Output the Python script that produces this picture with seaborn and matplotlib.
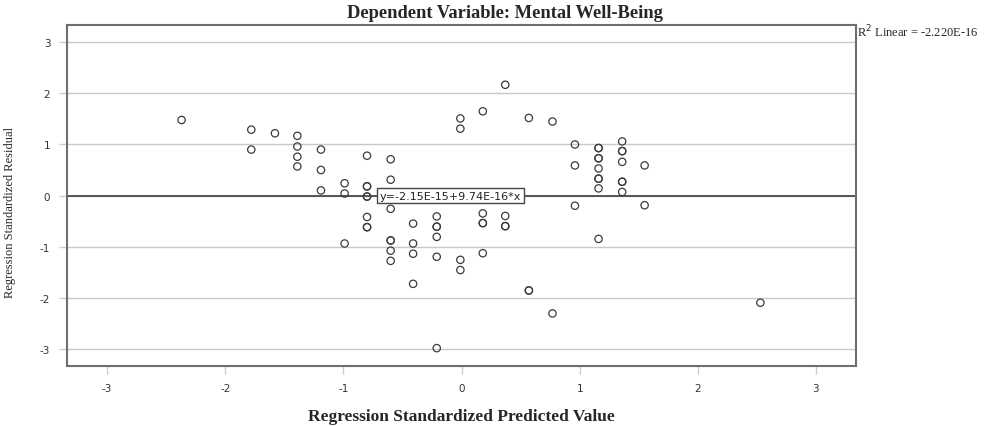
import matplotlib
matplotlib.use("Agg")
import matplotlib.pyplot as plt
import seaborn as sns
import pandas as pd
import numpy as np

# Data (standardized predicted value, standardized residual)
col_x = [-2.37, -1.78, -1.58, -1.39, -1.19, -0.99, -0.80, -0.60, -0.41, -0.21,
         -0.01, 0.18, 0.37, 0.57, 0.77, 0.96, 1.16, 1.36, 1.55, 2.53]
col_y = [
    [1.48],
    [1.29, 0.90],
    [1.22],
    [1.17, 0.96, 0.76, 0.57],
    [0.90, 0.50, 0.10],
    [0.24, 0.04, -0.94],
    [0.78, 0.18, 0.18, -0.02, -0.02, -0.42, -0.62, -0.62],
    [0.71, 0.31, -0.26, -0.88, -0.88, -1.08, -1.28],
    [-0.55, -0.94, -1.14, -1.73],
    [-0.41, -0.61, -0.61, -0.81, -1.20, -2.99],
    [1.51, 1.31, -1.26, -1.46],
    [1.65, -0.35, -0.54, -0.54, -1.13],
    [2.17, -0.40, -0.60, -0.60],
    [1.52, -1.86, -1.86],
    [1.45, -2.31],
    [1.00, 0.59, -0.20],
    [0.93, 0.93, 0.73, 0.73, 0.53, 0.33, 0.33, 0.14, -0.85],
    [1.06, 0.87, 0.87, 0.66, 0.27, 0.27, 0.07],
    [0.59, -0.19],
    [-2.10],
]
ticks = [-3, -2, -1, 0, 1, 2, 3]
fit_intercept = -2.15e-15
fit_slope = 9.74e-16

xs, ys = [], []
for cx, cys in zip(col_x, col_y):
    for cy in cys:
        xs.append(cx)
        ys.append(cy)
df = pd.DataFrame({"pred": xs, "resid": ys})

sns.set_style("white")
fig = plt.figure(figsize=(9.9, 4.27), dpi=100)
ax = fig.add_axes([0.0677, 0.1405, 0.797, 0.7985])

lim = 3.34
ax.set_xlim(-lim, lim)
ax.set_ylim(-lim, lim)

for t in ticks:
    ax.axhline(t, color="#c8c8c8", lw=1.0, zorder=0)

# fit line
lx = np.array([-lim, lim])
ax.plot(lx, fit_intercept + fit_slope * lx, color="#555555", lw=1.4, zorder=1)

sns.scatterplot(data=df, x="pred", y="resid", ax=ax, marker="o", s=28,
                facecolor="none", edgecolor="#3c3c3c", linewidth=0.9, zorder=3)

ax.set_xticks(ticks)
ax.set_yticks(ticks)
ax.set_xticklabels([str(t) for t in ticks], fontsize=7.5, color="#333333", family="DejaVu Sans")
ax.set_yticklabels([str(t) for t in ticks], fontsize=7.5, color="#333333", family="DejaVu Sans")
ax.tick_params(axis="both", which="both", length=6, width=1, color="#cccccc",
               bottom=True, left=True, pad=6)
for sp in ax.spines.values():
    sp.set_color("#6e6e6e")
    sp.set_linewidth(1.5)
    sp.set_visible(True)

ax.set_xlabel("Regression Standardized Predicted Value", fontsize=12.5, fontweight="bold",
              family="Liberation Serif")
ax.xaxis.set_label_coords(0.5, -0.124)
ax.set_ylabel("Regression Standardized Residual", fontsize=9, family="Liberation Serif")
ax.yaxis.set_label_coords(-0.0646, 0.452)

fig.text(0.510, 0.969, "Dependent Variable: Mental Well-Being", ha="center", va="center",
         fontsize=13.3, fontweight="bold", family="Liberation Serif")
fig.text(0.866, 0.925, "R$^2$ Linear = -2.220E-16", ha="left", va="center",
         fontsize=9, family="Liberation Serif")

ax.text(-0.69, 0.0, "y=-2.15E-15+9.74E-16*x", ha="left", va="center", fontsize=8,
        family="DejaVu Sans", color="#222222", zorder=5,
        bbox=dict(boxstyle="square,pad=0.25", facecolor="white", edgecolor="#444444", lw=1))

fig.savefig("out.png", dpi=100)
